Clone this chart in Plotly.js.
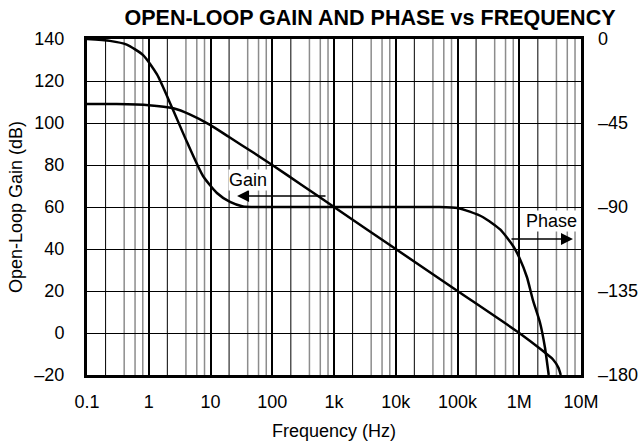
<!DOCTYPE html>
<html>
<head>
<meta charset="utf-8">
<script src="https://cdn.plot.ly/plotly-3.0.1.min.js"></script>
<style>
html,body{margin:0;padding:0;background:#fff;}
#chart{width:640px;height:447px;}
</style>
</head>
<body>
<div id="chart"></div>
<script>
// ---- data ----
const gainFreq = [0.1, 0.3, 1, 2.5, 4.7, 10, 20, 50, 100, 300, 1e3, 1e4, 1e5, 1e6, 2.4e6, 3.5e6, 4.3e6, 4.7e6];
const gainDb   = [109, 109, 108.5, 107, 104, 99, 93.3, 85.8, 80, 70.5, 60, 40, 20, 0, -8.5, -12.5, -16.5, -20];

const phaseFreq = [0.1, 0.235, 0.44, 0.81, 1.36, 2.38, 4.16, 7.57, 12.7, 20.7, 33.6, 100, 1e3, 1e4, 5e4, 1e5, 1.58e5, 2.6e5, 4.9e5, 8e5, 1e6, 1.33e6, 1.67e6, 2.17e6, 2.6e6, 3.0e6];
const phaseDeg  = [0, -1, -3, -8.6, -19, -36.7, -55.2, -73.4, -82.5, -87.3, -89.7, -90, -90, -90, -90, -90.5, -92.5, -95.5, -102, -111, -117, -127.5, -140, -152, -165, -180];

const xTickVals = [0.1, 1, 10, 100, 1e3, 1e4, 1e5, 1e6, 1e7];
const xTickText = ['0.1', '1', '10', '100', '1k', '10k', '100k', '1M', '10M'];
const gainTickVals = [-20, 0, 20, 40, 60, 80, 100, 120, 140];
const gainTickText = ['\u201320', '0', '20', '40', '60', '80', '100', '120', '140'];
const phaseTickVals = [0, -45, -90, -135, -180];
const phaseTickText = ['0', '\u201345', '\u201390', '\u2013135', '\u2013180'];

const grayMultipliers = [4, 6, 8];
const blackMultipliers = [2];
const decadeStarts = [0.1, 1, 10, 100, 1e3, 1e4, 1e5, 1e6];

// ---- minor grid lines as shapes (data values on the log axis) ----
const shapes = [];
decadeStarts.forEach(d => {
  grayMultipliers.forEach(m => {
    const v = d * m;
    shapes.push({type:'line', xref:'x', yref:'paper', x0:v, x1:v, y0:0, y1:1,
                 line:{color:'#8c8c8c', width:1.5}, layer:'below'});
  });
  blackMultipliers.forEach(m => {
    const v = d * m;
    shapes.push({type:'line', xref:'x', yref:'paper', x0:v, x1:v, y0:0, y1:1,
                 line:{color:'#000', width:1}, layer:'below'});
  });
});

const FONT = 'Liberation Sans, Arial, sans-serif';

const traces = [
  {x: gainFreq, y: gainDb, type:'scatter', mode:'lines', yaxis:'y',
   line:{color:'#000', width:2.5, shape:'spline', smoothing:0.6}, hoverinfo:'skip'},
  {x: phaseFreq, y: phaseDeg, type:'scatter', mode:'lines', yaxis:'y2',
   line:{color:'#000', width:2.5, shape:'spline', smoothing:0.6}, hoverinfo:'skip'}
];

const layout = {
  width:640, height:447,
  margin:{l:87, r:59, t:39, b:72},
  paper_bgcolor:'#fff', plot_bgcolor:'#fff',
  showlegend:false,
  font:{family:FONT, size:18, color:'#000'},
  title:{text:'<b>OPEN-LOOP GAIN AND PHASE vs FREQUENCY</b>', font:{family:FONT, size:21.5, color:'#000'},
         xref:'container', x:370/640, xanchor:'center', yref:'container', y:1-17.5/447, yanchor:'middle'},
  xaxis:{type:'log', range:[-1, 7], tickvals:xTickVals, ticktext:xTickText,
         showgrid:true, gridcolor:'#000', gridwidth:2,
         showline:true, mirror:true, linecolor:'#000', linewidth:3,
         ticks:'', ticklabelstandoff:8, zeroline:false,
         title:{text:'Frequency (Hz)', font:{size:18}, standoff:14}},
  yaxis:{range:[-20, 140], tickvals:gainTickVals, ticktext:gainTickText,
         showgrid:true, gridcolor:'#000', gridwidth:1,
         showline:true, mirror:true, linecolor:'#000', linewidth:3,
         ticks:'', ticklabelstandoff:16, zeroline:false,
         title:{text:'Open-Loop Gain (dB)', font:{size:18}, standoff:8}},
  yaxis2:{range:[-180, 0], overlaying:'y', side:'right', tickvals:phaseTickVals, ticktext:phaseTickText,
          showgrid:false, zeroline:false, showline:false, ticks:'', ticklabelstandoff:16},
  shapes: shapes,
  annotations:[
    {xref:'x', yref:'y', x:1.43, y:65.2, axref:'x', ayref:'y', ax:2.887, ay:65.2,
     text:'', showarrow:true, arrowhead:2, arrowsize:1.6, arrowwidth:1.5, arrowcolor:'#000'},
    {xref:'x', yref:'y', x:1.607, y:72.9, text:'Gain', showarrow:false, bgcolor:'#fff',
     font:{size:18}, borderpad:0},
    {xref:'x', yref:'y', x:6.87, y:44.8, axref:'x', ayref:'y', ax:5.85, ay:44.8,
     text:'', showarrow:true, arrowhead:2, arrowsize:1.6, arrowwidth:1.5, arrowcolor:'#000'},
    {xref:'x', yref:'y', x:6.53, y:53.3, text:'Phase', showarrow:false, bgcolor:'#fff',
     font:{size:18}, borderpad:0}
  ]
};

Plotly.newPlot('chart', traces, layout, {staticPlot:true, displayModeBar:false});
</script>
</body>
</html>
